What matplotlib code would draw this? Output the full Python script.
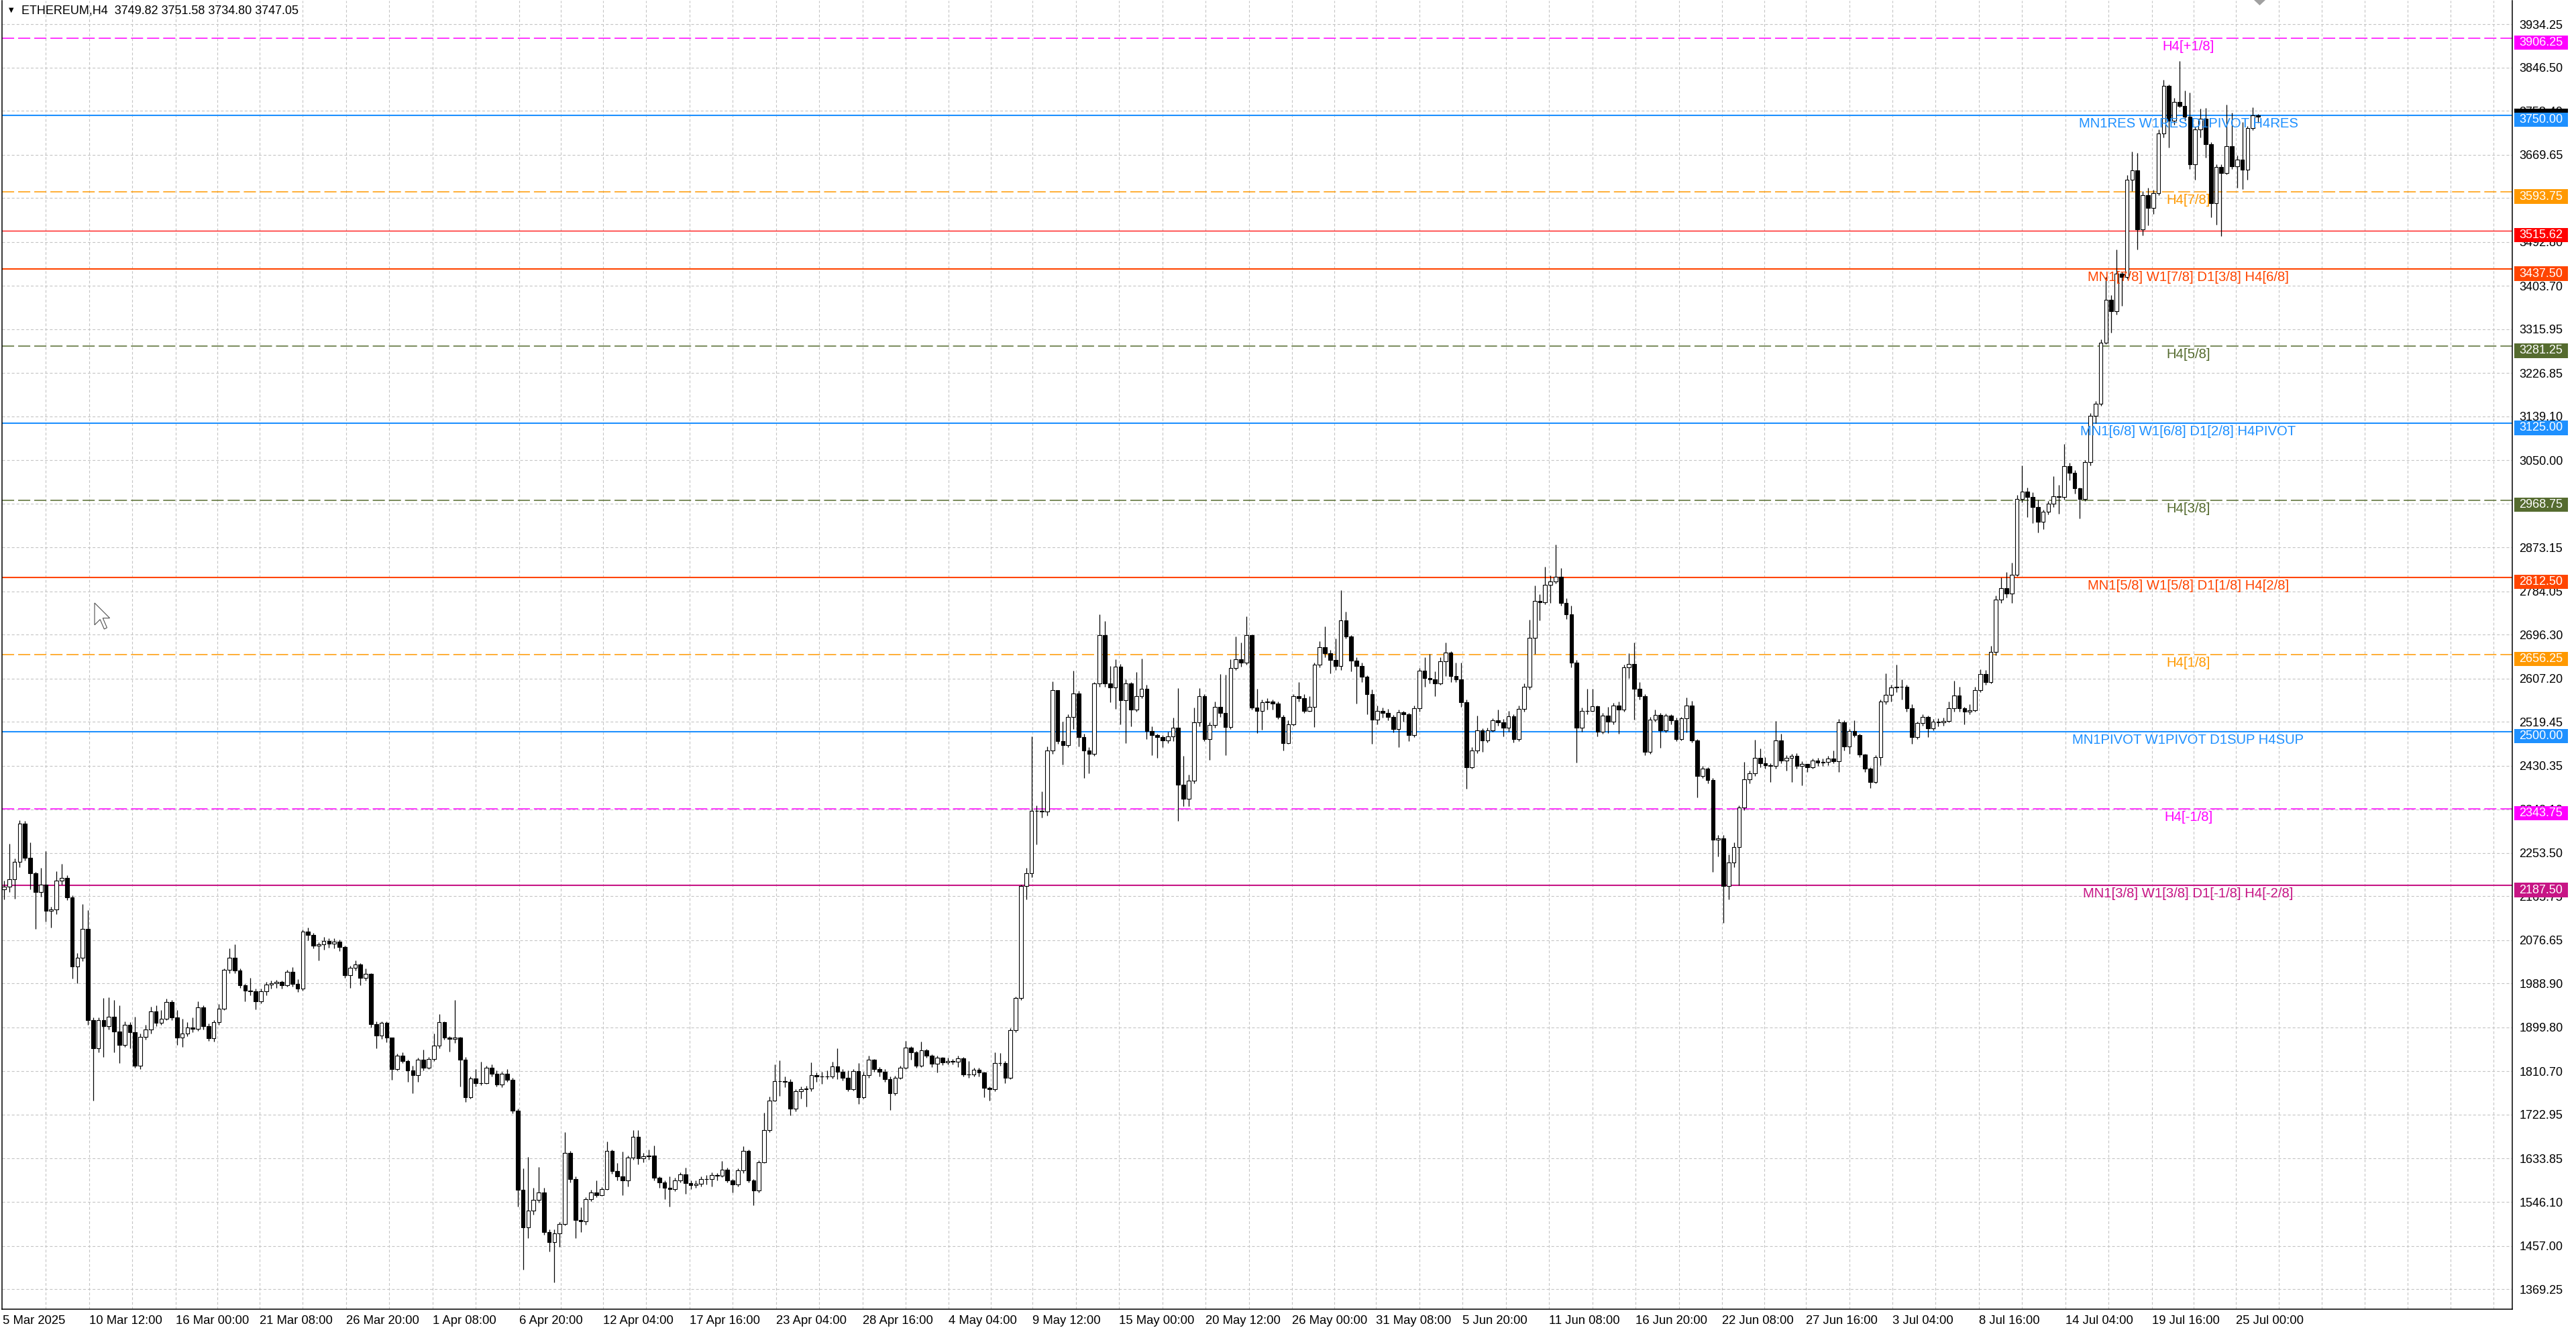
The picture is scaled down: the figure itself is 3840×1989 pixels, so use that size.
import numpy as np
import matplotlib
matplotlib.use("Agg")
import matplotlib.pyplot as plt
from matplotlib.patches import Rectangle, Polygon
from matplotlib.collections import PatchCollection, LineCollection
import matplotlib.transforms as mtransforms
from datetime import datetime, timedelta

plt.rcParams['font.family'] = ['Liberation Sans', 'DejaVu Sans']
plt.rcParams['lines.scale_dashes'] = False

# ----------------------------------------------------------------- data
title_text = "ETHEREUM,H4  3749.82 3751.58 3734.80 3747.05"
series_start = "2025-03-05 00:00"      # first candle
candle_hours = 8                       # each drawn candle = two H4 bars
first_open = 2180.0

closes = [
    2185, 2200, 2235, 2313, 2244, 2212, 2175, 2190, 2137, 2139,
    2197, 2203, 2164, 2023, 2041, 2100, 1914, 1857, 1914, 1902,
    1921, 1892, 1865, 1905, 1890, 1822, 1881, 1895, 1933, 1909,
    1918, 1951, 1920, 1879, 1888, 1900, 1897, 1940, 1902, 1878,
    1911, 1938, 2016, 2041, 2015, 1985, 1975, 1973, 1953, 1973,
    1987, 1990, 1992, 1985, 2013, 1988, 1978, 2094, 2088, 2065,
    2069, 2075, 2070, 2074, 2063, 2006, 2021, 2028, 2000, 2008,
    1907, 1883, 1909, 1879, 1816, 1843, 1832, 1813, 1803, 1834,
    1818, 1836, 1863, 1910, 1879, 1876, 1879, 1835, 1758, 1797,
    1787, 1787, 1818, 1806, 1784, 1806, 1794, 1731, 1570, 1494,
    1528, 1550, 1565, 1485, 1465, 1482, 1501, 1646, 1592, 1509,
    1507, 1551, 1565, 1560, 1572, 1649, 1608, 1598, 1589, 1636,
    1678, 1634, 1638, 1640, 1595, 1586, 1575, 1572, 1590, 1602,
    1584, 1580, 1583, 1593, 1593, 1601, 1599, 1612, 1590, 1581,
    1610, 1649, 1590, 1569, 1627, 1692, 1752, 1791, 1791, 1790,
    1735, 1770, 1775, 1776, 1803, 1800, 1800, 1800, 1821, 1810,
    1798, 1775, 1811, 1758, 1803, 1834, 1816, 1810, 1795, 1767,
    1798, 1818, 1859, 1849, 1822, 1853, 1842, 1826, 1838, 1829,
    1832, 1830, 1837, 1805, 1805, 1814, 1808, 1777, 1775, 1828,
    1828, 1798, 1894, 1959, 2187, 2212, 2339, 2339, 2337, 2462,
    2584, 2480, 2472, 2530, 2577, 2488, 2462, 2455, 2597, 2695,
    2597, 2589, 2631, 2563, 2598, 2544, 2572, 2586, 2501, 2492,
    2488, 2482, 2490, 2508, 2392, 2364, 2400, 2519, 2571, 2484,
    2513, 2550, 2538, 2509, 2629, 2646, 2640, 2696, 2548, 2542,
    2559, 2560, 2556, 2529, 2477, 2514, 2571, 2568, 2542, 2550,
    2635, 2671, 2658, 2645, 2633, 2725, 2693, 2643, 2633, 2611,
    2576, 2524, 2542, 2538, 2529, 2505, 2539, 2535, 2492, 2547,
    2623, 2608, 2605, 2598, 2642, 2660, 2612, 2605, 2559, 2427,
    2461, 2502, 2482, 2502, 2522, 2518, 2508, 2531, 2485, 2546,
    2590, 2690, 2765, 2762, 2797, 2804, 2814, 2761, 2737, 2639,
    2507, 2542, 2542, 2551, 2499, 2532, 2520, 2553, 2544, 2630,
    2637, 2587, 2571, 2459, 2524, 2533, 2502, 2532, 2523, 2485,
    2526, 2553, 2482, 2410, 2424, 2402, 2281, 2283, 2187, 2234,
    2266, 2346, 2403, 2415, 2446, 2435, 2431, 2430, 2482, 2441,
    2446, 2450, 2430, 2434, 2428, 2441, 2437, 2438, 2445, 2440,
    2518, 2469, 2501, 2493, 2453, 2424, 2398, 2448, 2561, 2574,
    2589, 2591, 2590, 2547, 2488, 2517, 2530, 2506, 2520, 2518,
    2521, 2547, 2573, 2547, 2540, 2543, 2584, 2617, 2600, 2661,
    2768, 2790, 2780, 2818, 2971, 2987, 2976, 2955, 2925, 2945,
    2962, 2977, 2975, 3038, 3024, 2993, 2972, 3046, 3140, 3164,
    3288, 3376, 3352, 3429, 3422, 3619, 3638, 3518, 3588, 3561,
    3591, 3712, 3809, 3738, 3777, 3769, 3746, 3650, 3721, 3743,
    3691, 3571, 3645, 3633, 3687, 3646, 3659, 3639, 3723, 3749.82,
    3747.05]

highs = [
    2198, 2272, 2242, 2320, 2318, 2275, 2215, 2223, 2258, 2145,
    2216, 2232, 2208, 2168, 2050, 2150, 2138, 1920, 1920, 1960,
    1961, 1955, 1945, 1912, 1910, 1921, 1888, 1905, 1942, 1945,
    1935, 1958, 1955, 1935, 1918, 1910, 1920, 1953, 1945, 1908,
    1915, 1947, 2020, 2060, 2069, 2020, 1988, 2000, 1978, 1978,
    1992, 1995, 1996, 1995, 2016, 2022, 1998, 2098, 2103, 2092,
    2072, 2083, 2080, 2080, 2078, 2066, 2025, 2036, 2030, 2020,
    2010, 1912, 1912, 1912, 1860, 1847, 1850, 1835, 1822, 1838,
    1855, 1840, 1888, 1927, 1912, 1882, 1956, 1880, 1840, 1800,
    1815, 1830, 1822, 1825, 1812, 1810, 1815, 1798, 1735, 1614,
    1637, 1575, 1617, 1575, 1490, 1490, 1505, 1688, 1650, 1598,
    1535, 1555, 1570, 1590, 1576, 1669, 1652, 1625, 1648, 1640,
    1692, 1692, 1645, 1652, 1661, 1598, 1590, 1598, 1595, 1606,
    1615, 1590, 1590, 1598, 1600, 1606, 1605, 1629, 1616, 1593,
    1614, 1659, 1652, 1592, 1630, 1727, 1760, 1825, 1833, 1800,
    1795, 1775, 1780, 1782, 1829, 1808, 1810, 1812, 1831, 1858,
    1815, 1812, 1815, 1828, 1810, 1842, 1836, 1820, 1815, 1800,
    1802, 1822, 1873, 1862, 1852, 1871, 1856, 1845, 1842, 1840,
    1838, 1836, 1842, 1840, 1832, 1818, 1818, 1810, 1780, 1850,
    1848, 1832, 1898, 1962, 2190, 2224, 2490, 2350, 2378, 2470,
    2601, 2565, 2520, 2535, 2623, 2582, 2495, 2468, 2600, 2737,
    2724, 2633, 2646, 2637, 2605, 2600, 2620, 2648, 2595, 2510,
    2495, 2492, 2500, 2528, 2588, 2450, 2412, 2548, 2588, 2575,
    2518, 2560, 2616, 2615, 2647, 2692, 2680, 2733, 2697, 2586,
    2565, 2568, 2565, 2560, 2533, 2522, 2575, 2600, 2575, 2572,
    2640, 2683, 2713, 2665, 2689, 2787, 2743, 2695, 2650, 2640,
    2614, 2585, 2552, 2548, 2546, 2533, 2545, 2542, 2538, 2552,
    2628, 2651, 2657, 2622, 2650, 2680, 2663, 2640, 2640, 2565,
    2468, 2532, 2506, 2508, 2526, 2544, 2525, 2542, 2535, 2552,
    2598, 2726, 2796, 2778, 2834, 2816, 2879, 2831, 2770, 2755,
    2645, 2548, 2587, 2586, 2552, 2538, 2550, 2558, 2560, 2635,
    2658, 2680, 2600, 2575, 2530, 2545, 2538, 2536, 2535, 2528,
    2530, 2569, 2562, 2485, 2430, 2428, 2405, 2290, 2290, 2250,
    2275, 2350, 2438, 2420, 2483, 2465, 2448, 2435, 2521, 2495,
    2452, 2455, 2456, 2440, 2432, 2445, 2446, 2445, 2450, 2462,
    2525, 2522, 2505, 2522, 2495, 2455, 2428, 2452, 2565, 2618,
    2595, 2635, 2605, 2595, 2555, 2520, 2535, 2532, 2525, 2526,
    2528, 2560, 2603, 2591, 2550, 2555, 2590, 2626, 2625, 2674,
    2775, 2812, 2823, 2842, 2980, 3039, 2995, 2985, 2970, 2950,
    2968, 3018, 3000, 3083, 3045, 3030, 2995, 3050, 3145, 3170,
    3295, 3422, 3385, 3478, 3432, 3628, 3676, 3673, 3595, 3602,
    3598, 3721, 3822, 3812, 3785, 3859, 3800, 3795, 3726, 3763,
    3764, 3695, 3650, 3650, 3771, 3755, 3668, 3736, 3728, 3766,
    3751.58]

lows = [
    2160, 2175, 2161, 2225, 2238, 2180, 2100, 2165, 2114, 2103,
    2130, 2190, 2158, 1999, 1989, 2035, 1905, 1752, 1850, 1840,
    1895, 1850, 1828, 1860, 1858, 1818, 1815, 1875, 1888, 1902,
    1905, 1915, 1915, 1865, 1860, 1882, 1890, 1893, 1895, 1872,
    1871, 1905, 1935, 2010, 2010, 1980, 1953, 1965, 1937, 1948,
    1965, 1978, 1980, 1978, 1983, 1982, 1972, 1975, 2076, 2060,
    2036, 2058, 2062, 2060, 2055, 2000, 1980, 2015, 1985, 1995,
    1900, 1858, 1876, 1870, 1794, 1812, 1828, 1790, 1767, 1790,
    1812, 1815, 1832, 1858, 1875, 1851, 1868, 1780, 1749, 1755,
    1780, 1783, 1785, 1800, 1780, 1778, 1790, 1725, 1536, 1409,
    1473, 1520, 1545, 1480, 1445, 1383, 1455, 1498, 1585, 1472,
    1485, 1500, 1548, 1555, 1558, 1570, 1603, 1590, 1560, 1578,
    1632, 1622, 1626, 1632, 1590, 1575, 1552, 1537, 1568, 1585,
    1563, 1572, 1574, 1578, 1582, 1578, 1590, 1596, 1585, 1565,
    1578, 1605, 1585, 1539, 1565, 1625, 1688, 1750, 1761, 1778,
    1722, 1730, 1755, 1739, 1770, 1790, 1786, 1795, 1796, 1795,
    1792, 1770, 1772, 1744, 1755, 1798, 1810, 1800, 1790, 1733,
    1762, 1795, 1815, 1835, 1818, 1820, 1838, 1820, 1808, 1824,
    1825, 1825, 1820, 1800, 1798, 1800, 1800, 1758, 1751, 1770,
    1822, 1787, 1795, 1890, 1955, 2160, 2205, 2271, 2325, 2330,
    2455, 2475, 2433, 2468, 2505, 2470, 2406, 2415, 2450, 2590,
    2590, 2559, 2546, 2515, 2477, 2511, 2540, 2568, 2484, 2452,
    2446, 2468, 2476, 2480, 2319, 2349, 2348, 2395, 2510, 2480,
    2443, 2508, 2530, 2452, 2505, 2625, 2632, 2636, 2545, 2497,
    2503, 2545, 2545, 2525, 2462, 2475, 2512, 2560, 2538, 2540,
    2509, 2630, 2650, 2618, 2625, 2625, 2688, 2622, 2557, 2600,
    2535, 2475, 2515, 2528, 2522, 2498, 2468, 2520, 2480, 2488,
    2540, 2590, 2598, 2571, 2595, 2612, 2600, 2600, 2550, 2384,
    2425, 2456, 2459, 2478, 2500, 2512, 2490, 2500, 2478, 2480,
    2540, 2585, 2657, 2725, 2758, 2760, 2800, 2755, 2728, 2630,
    2437, 2500, 2535, 2540, 2490, 2495, 2497, 2515, 2495, 2540,
    2608, 2524, 2565, 2452, 2455, 2520, 2467, 2498, 2515, 2480,
    2482, 2498, 2478, 2366, 2405, 2395, 2215, 2247, 2112, 2160,
    2225, 2188, 2340, 2395, 2410, 2428, 2425, 2398, 2425, 2436,
    2420, 2397, 2425, 2390, 2418, 2425, 2430, 2430, 2432, 2436,
    2418, 2462, 2455, 2488, 2448, 2418, 2385, 2395, 2432, 2555,
    2560, 2580, 2565, 2540, 2475, 2485, 2512, 2488, 2502, 2510,
    2512, 2518, 2540, 2540, 2514, 2535, 2540, 2580, 2595, 2598,
    2655, 2760, 2772, 2761, 2815, 2965, 2935, 2923, 2904, 2910,
    2940, 2955, 2941, 2970, 3010, 2982, 2932, 2968, 3040, 3125,
    3160, 3285, 3309, 3345, 3363, 3418, 3595, 3478, 3506, 3526,
    3550, 3588, 3705, 3684, 3730, 3765, 3738, 3640, 3619, 3705,
    3664, 3542, 3527, 3504, 3630, 3640, 3602, 3600, 3619, 3720,
    3734.80]

time_labels = ["5 Mar 2025", "10 Mar 12:00", "16 Mar 00:00", "21 Mar 08:00",
               "26 Mar 20:00", "1 Apr 08:00", "6 Apr 20:00", "12 Apr 04:00",
               "17 Apr 16:00", "23 Apr 04:00", "28 Apr 16:00", "4 May 04:00",
               "9 May 12:00", "15 May 00:00", "20 May 12:00", "26 May 00:00",
               "31 May 08:00", "5 Jun 20:00", "11 Jun 08:00", "16 Jun 20:00",
               "22 Jun 08:00", "27 Jun 16:00", "3 Jul 04:00", "8 Jul 16:00",
               "14 Jul 04:00", "19 Jul 16:00", "25 Jul 00:00"]
time_label_stamps = ["2025-03-05 00:00", "2025-03-10 12:00", "2025-03-16 00:00",
                     "2025-03-21 08:00", "2025-03-26 20:00", "2025-04-01 08:00",
                     "2025-04-06 20:00", "2025-04-12 04:00", "2025-04-17 16:00",
                     "2025-04-23 04:00", "2025-04-28 16:00", "2025-05-04 04:00",
                     "2025-05-09 12:00", "2025-05-15 00:00", "2025-05-20 12:00",
                     "2025-05-26 00:00", "2025-05-31 08:00", "2025-06-05 20:00",
                     "2025-06-11 08:00", "2025-06-16 20:00", "2025-06-22 08:00",
                     "2025-06-27 16:00", "2025-07-03 04:00", "2025-07-08 16:00",
                     "2025-07-14 04:00", "2025-07-19 16:00", "2025-07-25 00:00"]

price_ticks = [3934.25, 3846.50, 3758.40, 3669.65, 3581.55, 3492.80, 3403.70,
               3315.95, 3226.85, 3139.10, 3050.00, 2961.60, 2873.15, 2784.05,
               2696.30, 2607.20, 2519.45, 2430.35, 2342.10, 2253.50, 2165.75,
               2076.65, 1988.90, 1899.80, 1810.70, 1722.95, 1633.85, 1546.10,
               1457.00, 1369.25]

levels = [3906.25, 3750.00, 3593.75, 3515.62, 3437.50, 3281.25, 3125.00,
          2968.75, 2812.50, 2656.25, 2500.00, 2343.75, 2187.50]
level_names = ["H4[+1/8]", "MN1RES W1RES D1PIVOT H4RES", "H4[7/8]", "",
               "MN1[7/8] W1[7/8] D1[3/8] H4[6/8]", "H4[5/8]",
               "MN1[6/8] W1[6/8] D1[2/8] H4PIVOT", "H4[3/8]",
               "MN1[5/8] W1[5/8] D1[1/8] H4[2/8]", "H4[1/8]",
               "MN1PIVOT W1PIVOT D1SUP H4SUP", "H4[-1/8]",
               "MN1[3/8] W1[3/8] D1[-1/8] H4[-2/8]"]
level_colors = ["#FF00FF", "#1E90FF", "#FF9900", "#FF0000", "#FF4500", "#556B2F",
                "#1E90FF", "#556B2F", "#FF4500", "#FF9900", "#1E90FF", "#FF00FF",
                "#C71585"]
level_dashed = [True, False, True, False, False, True, False, True, False, True,
                False, True, False]
last_price = 3747.05

# ----------------------------------------------------------------- layout
W, H, DPI = 3840, 1989, 100
fig = plt.figure(figsize=(W / DPI, H / DPI), dpi=DPI, facecolor="white")
L, R, T, B = 3, 3745, 1, 1952          # plot frame in pixels
ax = fig.add_axes([L / W, 1 - B / H, (R - L) / W, (B - T) / H])
ax.set_facecolor("white")

XMIN, XMAX = -0.26, 957.5               # in H4-bar units
YMIN, YMAX = 1328.5, 3981.9
ax.set_xlim(XMIN, XMAX)
ax.set_ylim(YMIN, YMAX)
py = (YMAX - YMIN) / (B - T)           # price per pixel


def fx(xpix):
    """axes-fraction of a pixel column"""
    return (xpix - L) / (R - L)


t0 = datetime.strptime(series_start, "%Y-%m-%d %H:%M")


def bar_of(ts):
    return (ts - t0).total_seconds() / (4 * 3600)


# ----------------------------------------------------------------- grid
grid_col = "#C4C4C4"
grid_ls = (0, (2.9, 2.2))
tick_bars = [bar_of(datetime.strptime(s, "%Y-%m-%d %H:%M")) for s in time_label_stamps]
gx = []
for a, b in zip(tick_bars[:-1], tick_bars[1:]):
    gx += [a, (a + b) / 2]
gx.append(tick_bars[-1])
step = (tick_bars[-1] - tick_bars[0]) / (len(tick_bars) - 1) / 2
g = tick_bars[-1] + step
while g < XMAX:
    gx.append(g)
    g += step
ax.vlines(gx[1:], YMIN, YMAX, colors=grid_col, linewidth=0.8, linestyles=grid_ls, zorder=1)
ax.hlines(price_ticks, XMIN, XMAX, colors=grid_col, linewidth=0.8, linestyles=grid_ls, zorder=1)

# ----------------------------------------------------------------- levels
blend = mtransforms.blended_transform_factory(ax.transAxes, ax.transData)
for lv, nm, col, dsh in zip(levels, level_names, level_colors, level_dashed):
    if dsh:
        ax.axhline(lv, color=col, linewidth=1.1, linestyle=(0, (13, 4.3)), zorder=2)
    elif col == "#FF0000":
        ax.axhline(lv, color=col, linewidth=0.9, zorder=2)
    else:
        ax.axhline(lv, color=col, linewidth=1.5, zorder=2)
    if nm:
        ax.text(fx(3262), lv - 3 * py, nm, transform=blend, ha="center", va="top",
                color=col, fontsize=14.6, zorder=7)

# ----------------------------------------------------------------- candles
n = len(closes)
opens = [first_open] + closes[:-1]
xs = [bar_of(t0 + timedelta(hours=candle_hours * k)) + 0.5 for k in range(n)]
wicks = [[(x, lo), (x, hi)] for x, lo, hi in zip(xs, lows, highs)]
ax.add_collection(LineCollection(wicks, colors="black", linewidths=0.9, zorder=3))
bw = 1.45
rects, fcs = [], []
for x, o, c in zip(xs, opens, closes):
    lo_b, hi_b = min(o, c), max(o, c)
    rects.append(Rectangle((x - bw / 2, lo_b), bw, max(hi_b - lo_b, 0.01)))
    fcs.append("white" if c >= o else "black")
ax.add_collection(PatchCollection(rects, facecolors=fcs, edgecolors="black",
                                  linewidths=0.8, zorder=4))

# ----------------------------------------------------------------- axes
for s in ["left", "right", "bottom"]:
    ax.spines[s].set_color("black")
    ax.spines[s].set_linewidth(1.1)
ax.spines["top"].set_visible(False)

ax.yaxis.tick_right()
ax.set_yticks(price_ticks)
ax.set_yticklabels([f"{v:.2f}" for v in price_ticks])
ax.tick_params(axis="y", length=0, pad=7.5, labelsize=13, colors="black")
ax.set_xticks(tick_bars)
ax.set_xticklabels(time_labels)
ax.tick_params(axis="x", length=0, pad=6.5, labelsize=13.3, colors="black")
for lab in ax.get_xticklabels():
    lab.set_horizontalalignment("left")

# price boxes on the scale (box sits mostly below its price, as in MT4)
box_h = 21.5 * py
box_top = 4 * py
ax.add_patch(Rectangle((fx(3748), last_price - 10 * py), fx(3828) - fx(3748), 22 * py,
                       transform=blend, facecolor="black", edgecolor="none",
                       clip_on=False, zorder=5))
for lv, col in zip(levels, level_colors):
    ax.add_patch(Rectangle((fx(3748), lv + box_top - box_h), fx(3828) - fx(3748), box_h,
                           transform=blend, facecolor=col, edgecolor="none",
                           clip_on=False, zorder=6))
    ax.text(fx(3755), lv + box_top - box_h / 2, f"{lv:.2f}", transform=blend,
            ha="left", va="center", color="white", fontsize=13, clip_on=False, zorder=7)

# ----------------------------------------------------------------- header
fig.text(32 / W, 1 - 16 / H, title_text, ha="left", va="center", fontsize=13, color="black")
fig.text(17 / W, 1 - 15 / H, "\u25BC", ha="center", va="center", fontsize=7,
         color="black", family=["DejaVu Sans"])


def fp(x, y):
    return (x / W, 1 - y / H)


fig.patches.append(Polygon([fp(3360, 0), fp(3377, 0), fp(3368.5, 8)], closed=True,
                           transform=fig.transFigure, facecolor="#A0A0A0",
                           edgecolor="none", zorder=10))
arrow = [(0, 0), (0, 16), (4, 12), (7, 19), (9, 18), (6, 11), (11, 11)]
fig.patches.append(Polygon([fp(141 + 2.05 * a, 899 + 2.05 * b) for a, b in arrow],
                           closed=True, transform=fig.transFigure, facecolor="white",
                           edgecolor="#505050", linewidth=0.8, zorder=10))

fig.savefig("out.png", dpi=DPI, facecolor="white")
